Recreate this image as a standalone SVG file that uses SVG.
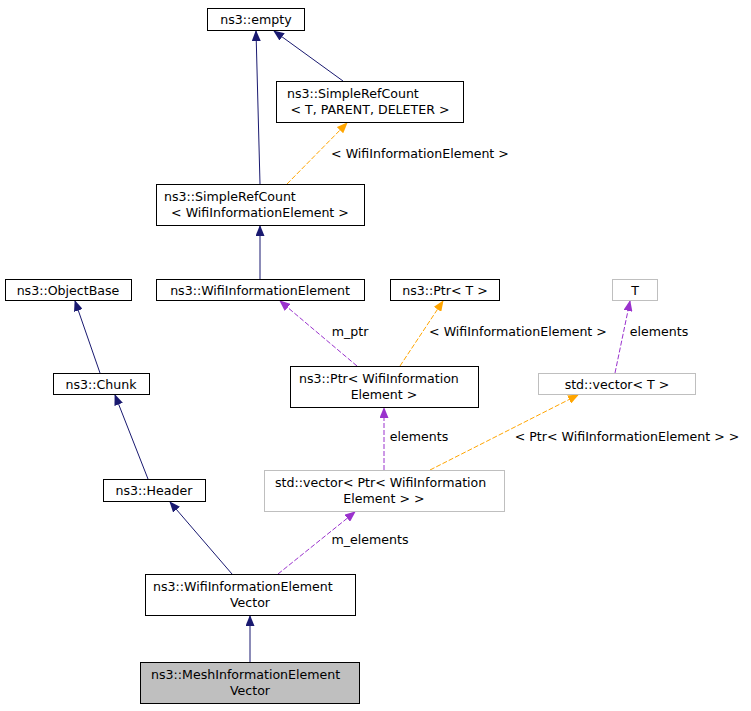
<svg xmlns="http://www.w3.org/2000/svg" width="751" height="711" viewBox="0 0 751 711">
<style>
text{font-family:"DejaVu Sans",sans-serif;font-size:12.6px;fill:#000}
.n{fill:#fff;stroke:#000;stroke-width:1}
.g{fill:#fff;stroke:#bfbfbf;stroke-width:1}
.s{fill:#bfbfbf;stroke:#000;stroke-width:1}
.e{fill:none;stroke:#191970;stroke-width:1}
.o{fill:none;stroke:#ffa500;stroke-width:1;stroke-dasharray:5,2}
.p{fill:none;stroke:#9a32cd;stroke-width:1;stroke-dasharray:5,2}
.m{text-anchor:middle}
</style>
<defs>
<marker id="an" markerWidth="11" markerHeight="9" refX="10" refY="4.5" orient="auto" markerUnits="userSpaceOnUse"><path d="M0,0L11,4.5L0,9z" fill="#191970"/></marker>
<marker id="ao" markerWidth="11" markerHeight="9" refX="10" refY="4.5" orient="auto" markerUnits="userSpaceOnUse"><path d="M0,0L11,4.5L0,9z" fill="#ffa500"/></marker>
<marker id="ap" markerWidth="11" markerHeight="9" refX="10" refY="4.5" orient="auto" markerUnits="userSpaceOnUse"><path d="M0,0L11,4.5L0,9z" fill="#9a32cd"/></marker>
</defs>
<rect width="751" height="711" fill="#fff"/>
<g id="connectors">
<path class="e" d="M260,184L256,31" marker-end="url(#an)"/>
<path class="e" d="M343,81L274,31" marker-end="url(#an)"/>
<path class="o" d="M287,184L347,123" marker-end="url(#ao)"/>
<text x="420" y="158" class="m">&lt; WifiInformationElement &gt;</text>
<path class="e" d="M260,279L260,226" marker-end="url(#an)"/>
<path class="e" d="M100,373L75,301" marker-end="url(#an)"/>
<path class="e" d="M148,479L115,395" marker-end="url(#an)"/>
<path class="e" d="M232,574L170,502" marker-end="url(#an)"/>
<path class="e" d="M250,662L250,616" marker-end="url(#an)"/>
<path class="p" d="M357,366L280,301" marker-end="url(#ap)"/>
<text x="350" y="336" class="m">m_ptr</text>
<path class="o" d="M400,366L443,301" marker-end="url(#ao)"/>
<text x="518" y="336" class="m">&lt; WifiInformationElement &gt;</text>
<path class="p" d="M615,373L630,301" marker-end="url(#ap)"/>
<text x="659" y="336" class="m">elements</text>
<path class="p" d="M384,470L384,408" marker-end="url(#ap)"/>
<text x="419" y="441" class="m">elements</text>
<path class="o" d="M430,470L578,395" marker-end="url(#ao)"/>
<text x="627" y="441" class="m">&lt; Ptr&lt; WifiInformationElement &gt; &gt;</text>
<path class="p" d="M278,574L355,512" marker-end="url(#ap)"/>
<text x="370" y="544" class="m">m_elements</text>
</g>
<g id="empty"><rect class="n" x="207.5" y="8.5" width="97" height="22"/><text x="256" y="24" class="m">ns3::empty</text></g>
<g id="src_t"><rect class="n" x="276.5" y="81.5" width="187" height="41"/><text x="287" y="98">ns3::SimpleRefCount</text><text x="370" y="114" class="m">&lt; T, PARENT, DELETER &gt;</text></g>
<g id="src_wie"><rect class="n" x="156.5" y="184.5" width="208" height="41"/><text x="164" y="201">ns3::SimpleRefCount</text><text x="260" y="217" class="m">&lt; WifiInformationElement &gt;</text></g>
<g id="objectbase"><rect class="n" x="5.5" y="279.5" width="126" height="21"/><text x="68" y="295" class="m">ns3::ObjectBase</text></g>
<g id="wie"><rect class="n" x="156.5" y="279.5" width="208" height="21"/><text x="260" y="295" class="m">ns3::WifiInformationElement</text></g>
<g id="ptr_t"><rect class="n" x="390.5" y="279.5" width="109" height="21"/><text x="445" y="295" class="m">ns3::Ptr&lt; T &gt;</text></g>
<g id="t"><rect class="g" x="612.5" y="279.5" width="45" height="21"/><text x="635" y="295" class="m">T</text></g>
<g id="chunk"><rect class="n" x="53.5" y="373.5" width="96" height="21"/><text x="101" y="389" class="m">ns3::Chunk</text></g>
<g id="ptr_wie"><rect class="n" x="290.5" y="366.5" width="188" height="41"/><text x="299" y="383">ns3::Ptr&lt; WifiInformation</text><text x="384" y="399" class="m">Element &gt;</text></g>
<g id="vec_t"><rect class="g" x="538.5" y="373.5" width="157" height="21"/><text x="617" y="389" class="m">std::vector&lt; T &gt;</text></g>
<g id="header"><rect class="n" x="103.5" y="479.5" width="102" height="22"/><text x="154" y="495" class="m">ns3::Header</text></g>
<g id="vec_ptr"><rect class="g" x="264.5" y="470.5" width="240" height="41"/><text x="275" y="487">std::vector&lt; Ptr&lt; WifiInformation</text><text x="384" y="503" class="m">Element &gt; &gt;</text></g>
<g id="wiev"><rect class="n" x="145.5" y="574.5" width="210" height="41"/><text x="153" y="591">ns3::WifiInformationElement</text><text x="250" y="607" class="m">Vector</text></g>
<g id="miev"><rect class="s" x="140.5" y="662.5" width="219" height="41"/><text x="151" y="679">ns3::MeshInformationElement</text><text x="250" y="695" class="m">Vector</text></g>
</svg>
